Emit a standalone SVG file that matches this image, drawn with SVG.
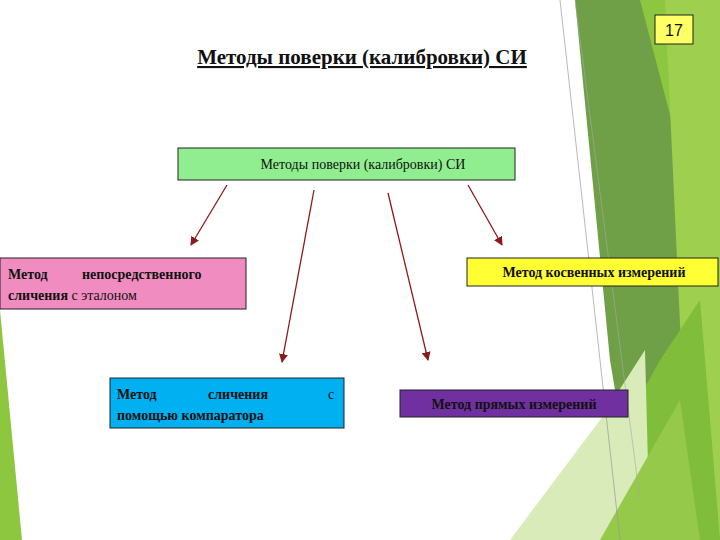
<svg xmlns="http://www.w3.org/2000/svg" width="720" height="540" viewBox="0 0 720 540">
<style>
.t{font-family:"Liberation Serif",serif;font-size:14px;fill:#111;}
.b{font-weight:bold;}
.box{stroke:#222;stroke-width:1;}
.arr{stroke:#8b1a1a;stroke-width:1.3;fill:none;marker-end:url(#ah);}
</style>
<defs><marker id="ah" markerWidth="9" markerHeight="9" refX="8" refY="4.5" orient="auto" markerUnits="userSpaceOnUse"><path d="M0,0L9,4.5L0,9z" fill="#8b1a1a"/></marker></defs>
<rect width="720" height="540" fill="#fff"/>
<g id="background">
<polygon points="575,0 720,0 720,540 640,540 610,360" fill="#6f9f46"/>
<polygon points="640,0 720,0 720,540 650,540 700,230" fill="#8dc63f"/>
<polygon points="665,0 720,0 720,540 690,540" fill="#9fcf4f"/>
<polygon points="560,540 660,360 700,300 720,540" fill="#7fbd3a"/>
<polygon points="510,540 600,420 645,350 650,540" fill="#d8ebb8"/>
<polygon points="600,540 680,400 700,540" fill="#94c94a"/>
<polygon points="0,310 22,540 0,540" fill="#8dc63f"/>
<line x1="560" y1="0" x2="620" y2="540" stroke="#999" stroke-width="0.7"/>
<line x1="575" y1="0" x2="640" y2="500" stroke="#aaa" stroke-width="0.6"/>
</g>
<text x="362" y="64" class="t b" style="font-size:21px" text-anchor="middle" text-decoration="underline">Методы поверки (калибровки) СИ</text>
<g id="num"><rect x="655" y="15" width="38" height="29" fill="#ffff66" class="box"/><text x="674" y="36" font-family="Liberation Sans,sans-serif" font-size="16" text-anchor="middle" fill="#111">17</text></g>
<g id="root"><rect x="178" y="148" width="337" height="32" fill="#90ee90" class="box"/><text x="363" y="169" class="t" text-anchor="middle">Методы поверки (калибровки) СИ</text></g>
<g id="n1"><rect x="0" y="258" width="246" height="51" fill="#f08cc0" class="box"/><text x="8" y="279" class="t b">Метод<tspan x="82">непосредственного</tspan></text><text x="8" y="300" class="t"><tspan class="b">сличения</tspan> с эталоном</text></g>
<g id="n2"><rect x="110" y="378" width="234" height="50" fill="#00b0f0" class="box"/><text x="117" y="399" class="t b">Метод<tspan x="208">сличения</tspan><tspan x="328" font-weight="normal">с</tspan></text><text x="117" y="420" class="t b">помощью компаратора</text></g>
<g id="n3"><rect x="400" y="390" width="228" height="27" fill="#7030a0" class="box"/><text x="514" y="409" class="t b" text-anchor="middle">Метод прямых измерений</text></g>
<g id="n4"><rect x="467" y="258" width="251" height="28" fill="#ffff33" class="box"/><text x="594" y="277" class="t b" text-anchor="middle">Метод косвенных измерений</text></g>
<g id="connectors">
<line x1="227" y1="185" x2="191" y2="245" class="arr"/>
<line x1="314" y1="190" x2="282" y2="362" class="arr"/>
<line x1="388" y1="193" x2="428" y2="360" class="arr"/>
<line x1="468" y1="185" x2="502" y2="245" class="arr"/>
</g>
</svg>
